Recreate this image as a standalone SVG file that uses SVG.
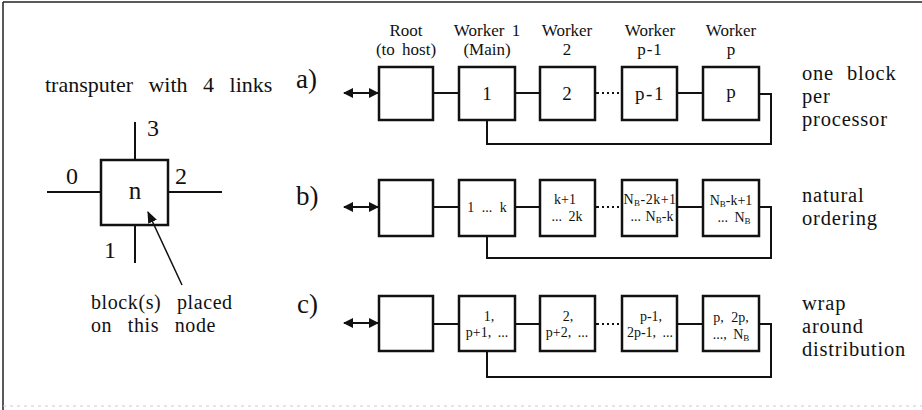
<svg xmlns="http://www.w3.org/2000/svg" width="922" height="410" viewBox="0 0 922 410" font-family="'Liberation Serif','DejaVu Serif','Times New Roman',serif">
<style>
text{font-family:'Liberation Serif','DejaVu Serif','Times New Roman',serif;fill:#111;word-spacing:3px}
.box{fill:#fff;stroke:#111;stroke-width:2.5}
.ln{fill:none;stroke:#111;stroke-width:2}
.dot{fill:none;stroke:#111;stroke-width:2;stroke-dasharray:2 3}
.hd{font-size:17px;text-anchor:middle}
.bl{font-size:19px;text-anchor:middle}
.sm{font-size:14px;text-anchor:middle;word-spacing:1px}
.sub{font-size:9px}
.rt{font-size:20.5px;word-spacing:7px;letter-spacing:0.8px}
.lab{font-size:27px}
</style>
<defs>
<marker id="ah" viewBox="0 0 10 10" refX="9" refY="5" markerWidth="10" markerHeight="10" markerUnits="userSpaceOnUse" orient="auto-start-reverse">
<path d="M0,0 L10,5 L0,10 z" fill="#111"/>
</marker>
<marker id="ah2" viewBox="0 0 10 10" refX="9" refY="5" markerWidth="12" markerHeight="12" markerUnits="userSpaceOnUse" orient="auto">
<path d="M0,1 L10,5 L0,9 z" fill="#111"/>
</marker>
</defs>
<g id="frame">
<line x1="3" y1="2" x2="922" y2="2" stroke="#222" stroke-width="1.5"/>
<line x1="3" y1="2" x2="3" y2="410" stroke="#222" stroke-width="1.5"/>
<line x1="3" y1="406" x2="922" y2="406" stroke="#ccc" stroke-width="1" stroke-dasharray="3 4"/>
</g>
<g id="transputer">
<text x="45" y="92" font-size="22" style="word-spacing:10px">transputer with 4 links</text>
<line class="ln" x1="47" y1="192" x2="101" y2="192"/>
<line class="ln" x1="168" y1="192" x2="222" y2="192"/>
<line class="ln" x1="135" y1="122" x2="135" y2="160"/>
<line class="ln" x1="135" y1="225" x2="135" y2="263"/>
<rect class="box" x="101" y="160" width="67" height="65"/>
<text x="135" y="199" font-size="25" text-anchor="middle">n</text>
<text x="147" y="136" font-size="24">3</text>
<text x="66" y="184" font-size="24">0</text>
<text x="175" y="184" font-size="24">2</text>
<text x="104" y="258" font-size="24">1</text>
<line x1="182" y1="285" x2="148" y2="212" stroke="#111" stroke-width="1.5" marker-end="url(#ah2)"/>
<text x="91" y="309" font-size="20" style="word-spacing:10px;letter-spacing:0.6px">block(s) placed</text>
<text x="91" y="332" font-size="20" style="word-spacing:10px;letter-spacing:0.6px">on this node</text>
</g>
<g id="headers">
<text class="hd" x="406" y="36">Root</text>
<text class="hd" x="406" y="55">(to host)</text>
<text class="hd" x="487" y="36">Worker 1</text>
<text class="hd" x="487" y="55">(Main)</text>
<text class="hd" x="567" y="36">Worker</text>
<text class="hd" x="567" y="55">2</text>
<text class="hd" x="650" y="36">Worker</text>
<text class="hd" x="650" y="55" letter-spacing="1">p-1</text>
<text class="hd" x="731" y="36">Worker</text>
<text class="hd" x="731" y="55">p</text>
</g>
<g id="connectors">
<line x1="344" y1="93" x2="378" y2="93" stroke="#111" stroke-width="2" marker-start="url(#ah)" marker-end="url(#ah)"/>
<line class="ln" x1="433" y1="93" x2="459" y2="93"/>
<line class="ln" x1="515" y1="93" x2="540" y2="93"/>
<line class="ln" x1="595" y1="93" x2="599" y2="93"/>
<line class="dot" x1="602" y1="93" x2="619" y2="93"/>
<line class="ln" x1="677" y1="93" x2="703" y2="93"/>
<polyline class="ln" points="759,94 771,94 771,144 487,144 487,120"/>
<line x1="344" y1="207" x2="378" y2="207" stroke="#111" stroke-width="2" marker-start="url(#ah)" marker-end="url(#ah)"/>
<line class="ln" x1="433" y1="207" x2="459" y2="207"/>
<line class="ln" x1="515" y1="207" x2="540" y2="207"/>
<line class="ln" x1="595" y1="207" x2="599" y2="207"/>
<line class="dot" x1="602" y1="207" x2="619" y2="207"/>
<line class="ln" x1="677" y1="207" x2="703" y2="207"/>
<polyline class="ln" points="759,207 771,207 771,258 487,258 487,236"/>
<line x1="344" y1="323" x2="378" y2="323" stroke="#111" stroke-width="2" marker-start="url(#ah)" marker-end="url(#ah)"/>
<line class="ln" x1="433" y1="324" x2="459" y2="324"/>
<line class="ln" x1="515" y1="324" x2="540" y2="324"/>
<line class="ln" x1="595" y1="324" x2="599" y2="324"/>
<line class="dot" x1="602" y1="324" x2="619" y2="324"/>
<line class="ln" x1="677" y1="324" x2="703" y2="324"/>
<polyline class="ln" points="759,324 771,324 771,377 487,377 487,351"/>
</g>
<g id="row-a">
<text class="lab" x="296" y="88">a)</text>
<g id="a-root"><rect class="box" x="379" y="67" width="54" height="53"/></g>
<g id="a-w1"><rect class="box" x="459" y="67" width="56" height="53"/><text class="bl" x="487" y="100">1</text></g>
<g id="a-w2"><rect class="box" x="540" y="67" width="55" height="53"/><text class="bl" x="567" y="100">2</text></g>
<g id="a-wp1"><rect class="box" x="622" y="67" width="55" height="53"/><text class="bl" x="650" y="100" letter-spacing="1.5">p-1</text></g>
<g id="a-wp"><rect class="box" x="703" y="67" width="56" height="53"/><text class="bl" x="731" y="98">p</text></g>
<text class="rt" x="802" y="80">one block</text>
<text class="rt" x="802" y="103">per</text>
<text class="rt" x="802" y="126">processor</text>
</g>
<g id="row-b">
<text class="lab" x="296" y="205">b)</text>
<g id="b-root"><rect class="box" x="379" y="180" width="54" height="56"/></g>
<g id="b-w1"><rect class="box" x="459" y="180" width="56" height="56"/><text class="sm" x="487" y="212" font-size="15" style="word-spacing:4px">1 ... k</text></g>
<g id="b-w2"><rect class="box" x="540" y="180" width="55" height="56"/><text class="sm" x="565" y="204" font-size="15">k+1</text><text class="sm" x="567" y="221" font-size="15" style="word-spacing:3px">... 2k</text></g>
<g id="b-wp1"><rect class="box" x="622" y="180" width="55" height="56"/><text class="sm" x="650" y="204" font-size="14" letter-spacing="0.5">N<tspan class="sub" dy="2">B</tspan><tspan dy="-2">-2k+1</tspan></text><text class="sm" x="652" y="221" font-size="14">... N<tspan class="sub" dy="2">B</tspan><tspan dy="-2">-k</tspan></text></g>
<g id="b-wp"><rect class="box" x="703" y="180" width="56" height="56"/><text class="sm" x="731" y="205" font-size="14">N<tspan class="sub" dy="2">B</tspan><tspan dy="-2">-k+1</tspan></text><text class="sm" x="734" y="222" font-size="14" style="word-spacing:3px">... N<tspan class="sub" dy="2">B</tspan></text></g>
<text class="rt" x="802" y="202">natural</text>
<text class="rt" x="802" y="225">ordering</text>
</g>
<g id="row-c">
<text class="lab" x="297" y="313">c)</text>
<g id="c-root"><rect class="box" x="379" y="296" width="54" height="55"/></g>
<g id="c-w1"><rect class="box" x="459" y="296" width="56" height="55"/><text class="sm" x="489" y="321" font-size="15">1,</text><text class="sm" x="487" y="337" font-size="15" style="word-spacing:3px">p+1, ...</text></g>
<g id="c-w2"><rect class="box" x="540" y="296" width="55" height="55"/><text class="sm" x="568" y="321" font-size="15">2,</text><text class="sm" x="567" y="337" font-size="15" style="word-spacing:3px">p+2, ...</text></g>
<g id="c-wp1"><rect class="box" x="622" y="296" width="55" height="55"/><text class="sm" x="651" y="321" font-size="15">p-1,</text><text class="sm" x="650" y="337" font-size="15" style="word-spacing:3px">2p-1, ...</text></g>
<g id="c-wp"><rect class="box" x="703" y="296" width="56" height="55"/><text class="sm" x="731" y="322" style="word-spacing:4px">p, 2p,</text><text class="sm" x="731" y="339" style="word-spacing:3px">..., N<tspan class="sub" dy="2">B</tspan></text></g>
<text class="rt" x="802" y="310">wrap</text>
<text class="rt" x="802" y="333">around</text>
<text class="rt" x="802" y="356">distribution</text>
</g>
</svg>
